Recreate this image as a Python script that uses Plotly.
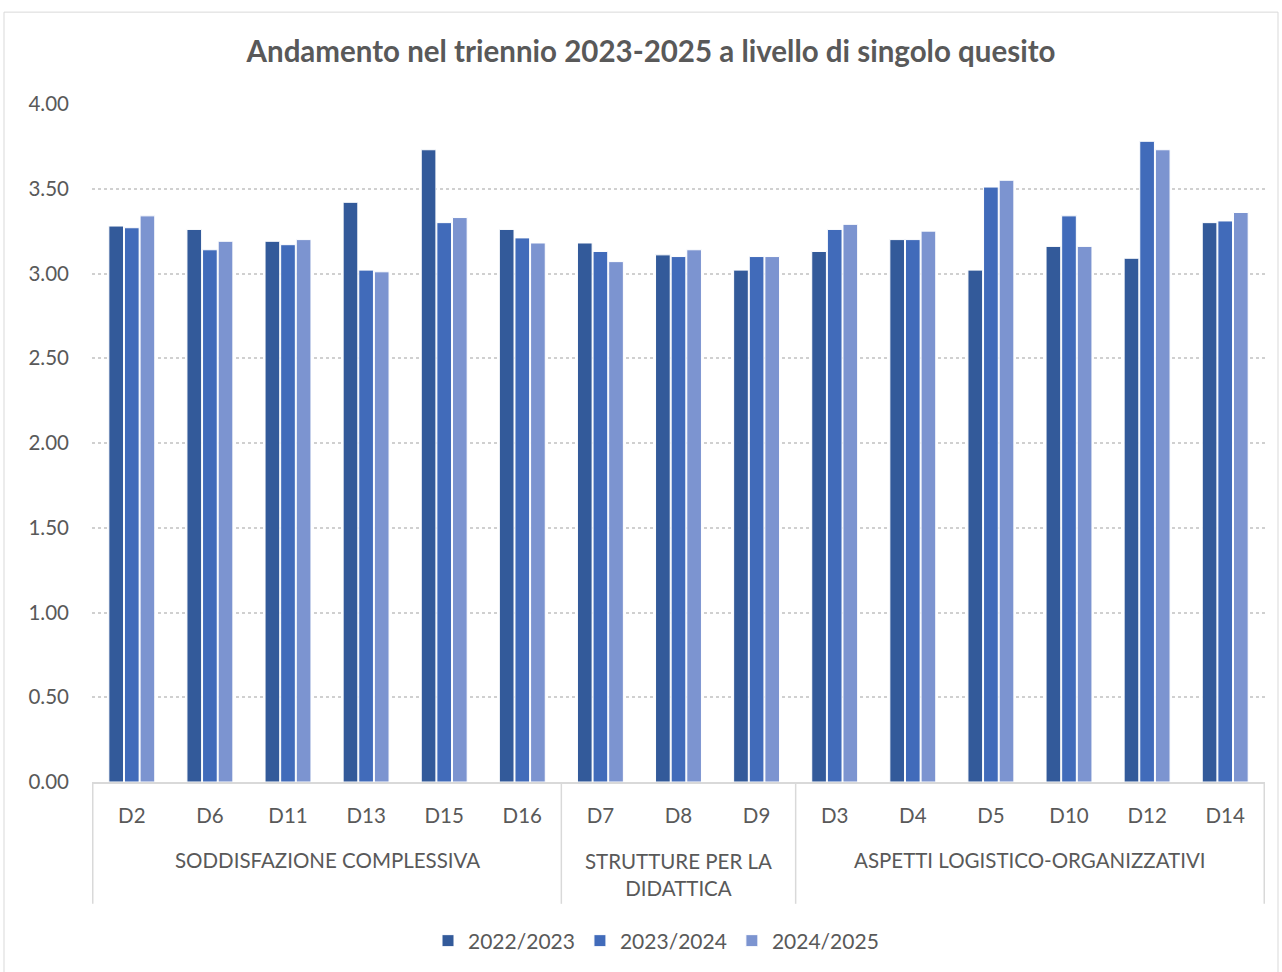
import plotly.graph_objects as go

# Questions in display order, grouped by area
questions = ["D2", "D6", "D11", "D13", "D15", "D16",
             "D7", "D8", "D9",
             "D3", "D4", "D5", "D10", "D12", "D14"]
group_names = ["SODDISFAZIONE COMPLESSIVA", "STRUTTURE PER LA<br>DIDATTICA",
               "ASPETTI LOGISTICO-ORGANIZZATIVI"]
group_sizes = [6, 3, 6]

years = ["2022/2023", "2023/2024", "2024/2025"]
v_2022_23 = [3.28, 3.26, 3.19, 3.42, 3.73, 3.26, 3.18, 3.11, 3.02, 3.13, 3.20, 3.02, 3.16, 3.09, 3.30]
v_2023_24 = [3.27, 3.14, 3.17, 3.02, 3.30, 3.21, 3.13, 3.10, 3.10, 3.26, 3.20, 3.51, 3.34, 3.78, 3.31]
v_2024_25 = [3.34, 3.19, 3.20, 3.01, 3.33, 3.18, 3.07, 3.14, 3.10, 3.29, 3.25, 3.55, 3.16, 3.73, 3.36]

y_ticks = [0, 0.5, 1.0, 1.5, 2.0, 2.5, 3.0, 3.5, 4.0]

colors = ["#335A9A", "#416BBA", "#7C94D0"]
FONT = "Lato"
TXT = "#595959"

fig = go.Figure()
for name, vals, col in zip(years, [v_2022_23, v_2023_24, v_2024_25], colors):
    fig.add_trace(go.Bar(
        x=questions, y=vals, name=name,
        marker=dict(color=col, line=dict(color="white", width=1)),
    ))

W, H = 1282, 972
L, R, T, B = 92, 17, 104, 189
plot_h = H - T - B


def py(px):
    """pixel row -> paper y"""
    return (H - B - px) / plot_h


shapes = []
# outer chart border
shapes.append(dict(type="rect", xref="paper", yref="paper",
                   x0=(4 - L) / (W - L - R), x1=(1278 - L) / (W - L - R),
                   y0=py(1000), y1=py(12),
                   line=dict(color="#d9d9d9", width=1), fillcolor="rgba(0,0,0,0)",
                   layer="below"))
# group dividers under the axis
bounds = [-0.5]
for s in group_sizes:
    bounds.append(bounds[-1] + s)
for b in bounds:
    shapes.append(dict(type="line", xref="x", yref="paper", x0=b, x1=b,
                       y0=0, y1=py(905), line=dict(color="#d9d9d9", width=1.5)))

annotations = []
for i, (g, s) in enumerate(zip(group_names, group_sizes)):
    center = bounds[i] + s / 2
    annotations.append(dict(x=center, y=py(876 if "<br>" in g else 861),
                            xref="x", yref="paper", text=g, showarrow=False,
                            yanchor="middle", xanchor="center",
                            font=dict(family=FONT, size=20.5, color=TXT)))

fig.update_layout(
    width=W, height=H,
    margin=dict(l=L, r=R, t=T, b=B),
    paper_bgcolor="white", plot_bgcolor="white",
    barmode="group", bargap=0.4, bargroupgap=0.06,
    title=dict(text="<b>Andamento nel triennio 2023-2025 a livello di singolo quesito</b>",
               x=(651 - L) / (W - L - R), xref="paper", xanchor="center",
               y=1 - 52 / H, yanchor="middle",
               font=dict(family=FONT, size=29.5, color=TXT)),
    font=dict(family=FONT, size=20, color=TXT),
    legend=dict(orientation="h", x=(656 - L) / (W - L - R), xanchor="center", xref="paper",
                y=py(941), yanchor="middle", font=dict(family=FONT, size=21, color=TXT),
                itemwidth=30, traceorder="normal"),
    shapes=shapes,
    annotations=annotations,
)
fig.update_xaxes(type="category", showline=True, linecolor="#d9d9d9", linewidth=1.5,
                 ticks="", showgrid=False, ticklabelstandoff=15,
                 tickfont=dict(family=FONT, size=20.5, color=TXT))
fig.update_yaxes(range=[0, 4], tickvals=y_ticks, tickformat=".2f",
                 showgrid=True, gridcolor="#d0d0d0", griddash="dot", gridwidth=1.5,
                 zeroline=False, showline=False, ticks="", ticklabelstandoff=22,
                 tickfont=dict(family=FONT, size=20.5, color=TXT))

fig.write_html("out.html")
